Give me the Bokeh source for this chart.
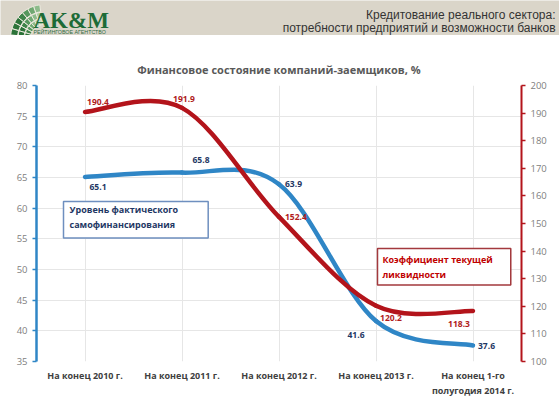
import numpy as np
from bokeh.plotting import figure
from bokeh.models import Range1d, LinearAxis, FixedTicker, Label, ColumnDataSource
from bokeh.layouts import column
from bokeh.embed import file_html
from bokeh.resources import INLINE
from bokeh.core.properties import value

# ---------------- data ----------------
categories = ["На конец 2010 г.", "На конец 2011 г.", "На конец 2012 г.",
              "На конец 2013 г.", "На конец 1-го\nполугодия 2014 г."]
self_financing = [65.1, 65.8, 63.9, 41.6, 37.6]      # left axis, %
liquidity = [190.4, 191.9, 152.4, 120.2, 118.3]       # right axis, %
left_ticks = [35, 40, 45, 50, 55, 60, 65, 70, 75, 80]
right_ticks = [100, 110, 120, 130, 140, 150, 160, 170, 180, 190, 200]

header_title = ["Кредитование реального сектора:",
                "потребности предприятий и возможности банков"]
chart_title = "Финансовое состояние компаний-заемщиков, %"
box_blue_text = "Уровень фактического\nсамофинансирования"
box_red_text = "Коэффициент текущей\nликвидности"

BLUE = "#2f86c6"
RED = "#b3141b"
NAVY = "#1f3864"
LBL_RED = "#b01c1c"
FONT = "Open Sans"
W = 559


def smooth_segments(ys):
    """Excel-like smoothed line: cubic Bezier segments (Catmull-Rom, tension 1/6)."""
    n = len(ys)
    pts = [(float(i), float(ys[i])) for i in range(n)]
    d = dict(x0=[], y0=[], x1=[], y1=[], cx0=[], cy0=[], cx1=[], cy1=[])
    for i in range(n - 1):
        pp = pts[i - 1] if i > 0 else pts[i]
        p0 = pts[i]
        p1 = pts[i + 1]
        pn = pts[i + 2] if i + 2 < n else pts[i + 1]
        d["x0"].append(p0[0]); d["y0"].append(p0[1])
        d["x1"].append(p1[0]); d["y1"].append(p1[1])
        d["cx0"].append(p0[0] + (p1[0] - pp[0]) / 6.0)
        d["cy0"].append(p0[1] + (p1[1] - pp[1]) / 6.0)
        d["cx1"].append(p1[0] - (pn[0] - p0[0]) / 6.0)
        d["cy1"].append(p1[1] - (pn[1] - p0[1]) / 6.0)
    return ColumnDataSource(d)


# ---------------- header band ----------------
BEIGE = "#dad5c9"
HH = 35
h = figure(width=W, height=HH, x_range=Range1d(0, W), y_range=Range1d(0, HH),
           output_backend="svg", toolbar_location=None, min_border=0,
           x_axis_type=None, y_axis_type=None, outline_line_color=None,
           background_fill_color=BEIGE, border_fill_color=BEIGE)
h.frame_align = False
h.grid.visible = False

# logo fan
rings = [(14, 20), (20.5, 26.5), (27, 34)]
greens = ["#2c7339", "#3f8449", "#56975d", "#70a872", "#8dbb8b", "#abcda6", "#c6dec0"]
nseg = 7
a0, a1 = np.deg2rad(98), np.deg2rad(174)
step = (a1 - a0) / nseg
for ri, (r_in, r_out) in enumerate(rings):
    for k in range(nseg):
        ci = (nseg - 1 - k) - ri
        col = greens[min(len(greens) - 1, max(0, ci))]
        h.annular_wedge(x=44, y=-3, inner_radius=r_in, outer_radius=r_out,
                        start_angle=a0 + k * step, end_angle=a0 + (k + 1) * step,
                        fill_color=col, line_color="#eeeae0", line_width=1)

h.text(x=[33], y=[15], text=["AK&M"], text_font=value("Liberation Serif"),
       text_font_style="bold", text_font_size="23px", text_color="#1d6b37",
       text_baseline="middle", text_align="left")
h.text(x=[33], y=[3.5], text=["РЕЙТИНГОВОЕ  АГЕНТСТВО"], text_font=value("Liberation Sans"),
       text_font_size="5.3px", text_color="#2d6b3f", text_baseline="middle", text_align="left")
h.text(x=[555, 555], y=[21, 8], text=header_title, text_font=value("Liberation Sans"),
       text_font_size="12px", text_color="#333333", text_baseline="middle", text_align="right")

# ---------------- main chart ----------------
p = figure(width=W, height=400 - HH, x_range=Range1d(-0.5, 4.5), y_range=Range1d(35, 80),
           output_backend="svg", toolbar_location=None,
           min_border_left=36, min_border_right=38, min_border_top=50, min_border_bottom=32,
           outline_line_color=None, background_fill_color="white", border_fill_color="white")
p.frame_align = False
p.extra_y_ranges = {"right": Range1d(100, 200)}

p.title.text = chart_title
p.title.align = "center"
p.title.text_font = FONT
p.title.text_font_style = "bold"
p.title.text_font_size = "11px"
p.title.text_color = "#595959"
p.title.standoff = 18

# x axis
p.xaxis.ticker = FixedTicker(ticks=list(range(len(categories))))
p.xaxis.major_label_overrides = {i: c for i, c in enumerate(categories)}
p.xaxis.axis_line_color = None
p.xaxis.major_tick_line_color = None
p.xaxis.major_tick_out = 0
p.xaxis.minor_tick_line_color = None
p.xaxis.major_label_standoff = 7
p.xaxis.major_label_text_font = FONT
p.xaxis.major_label_text_font_style = "bold"
p.xaxis.major_label_text_font_size = "9px"
p.xaxis.major_label_text_color = "#404040"

# left axis
p.yaxis.ticker = FixedTicker(ticks=left_ticks)
p.yaxis.axis_line_color = BLUE
p.yaxis.axis_line_width = 2.5
p.yaxis.major_tick_line_color = BLUE
p.yaxis.major_tick_line_width = 1.5
p.yaxis.major_tick_out = 4
p.yaxis.major_tick_in = 0
p.yaxis.minor_tick_line_color = None
p.yaxis.major_label_standoff = 5
p.yaxis.major_label_text_font = FONT
p.yaxis.major_label_text_font_size = "9.5px"
p.yaxis.major_label_text_color = "#808080"

# right axis
ra = LinearAxis(y_range_name="right", ticker=FixedTicker(ticks=right_ticks))
ra.axis_line_color = RED
ra.axis_line_width = 2
ra.major_tick_line_color = RED
ra.major_tick_line_width = 1.5
ra.major_tick_out = 4
ra.major_tick_in = 0
ra.minor_tick_line_color = None
ra.major_label_standoff = 5
ra.major_label_text_font = FONT
ra.major_label_text_font_size = "9.5px"
ra.major_label_text_color = "#808080"
p.add_layout(ra, "right")

# grids
p.xgrid.grid_line_color = "#e6e6e6"
p.ygrid.grid_line_color = "#e6e6e6"

# smoothed series
p.bezier(x0="x0", y0="y0", x1="x1", y1="y1", cx0="cx0", cy0="cy0", cx1="cx1", cy1="cy1",
         source=smooth_segments(self_financing), line_color=BLUE, line_width=4.5,
         line_cap="round")
p.bezier(x0="x0", y0="y0", x1="x1", y1="y1", cx0="cx0", cy0="cy0", cx1="cx1", cy1="cy1",
         source=smooth_segments(liquidity), line_color=RED, line_width=4.5,
         line_cap="round", y_range_name="right")

# data labels
idx = list(range(len(categories)))
blue_src = ColumnDataSource(dict(
    x=idx, y=self_financing, text=[f"{v:.1f}" for v in self_financing],
    xo=[13, 19, 6, -20, 5], yo=[10, -13, 0, 14, 0],
    al=["center", "center", "left", "center", "left"]))
red_src = ColumnDataSource(dict(
    x=idx, y=liquidity, text=[f"{v:.1f}" for v in liquidity],
    xo=[13, 2, 6, 15, -14], yo=[-10, -9, 0, 12, 13],
    al=["center", "center", "left", "center", "center"]))
p.text(x="x", y="y", text="text", source=blue_src, x_offset="xo", y_offset="yo",
       text_align="al", text_baseline="middle", text_font=value(FONT),
       text_font_style="bold", text_font_size="8.5px", text_color=NAVY)
p.text(x="x", y="y", text="text", source=red_src, x_offset="xo", y_offset="yo",
       text_align="al", text_baseline="middle", text_font=value(FONT),
       text_font_style="bold", text_font_size="8.5px", text_color=LBL_RED,
       y_range_name="right")


# annotation boxes with shadow (screen units relative to the plot frame)
def add_box(x, y, txt, tcol, bcol, pad):
    p.add_layout(Label(x=x + 3, y=y - 3, x_units="screen", y_units="screen", text=txt,
                       text_align="left", text_baseline="top", text_font=FONT,
                       text_font_style="bold", text_font_size="9px", text_alpha=0.0,
                       background_fill_color="#9a9a9a", background_fill_alpha=0.5,
                       padding=pad))
    p.add_layout(Label(x=x, y=y, x_units="screen", y_units="screen", text=txt,
                       text_align="left", text_baseline="top", text_font=FONT,
                       text_font_style="bold", text_font_size="9px", text_color=tcol,
                       background_fill_color="white", border_line_color=bcol,
                       border_line_width=1.5, padding=pad))


add_box(27, 160, box_blue_text, NAVY, "#6e8fbf", dict(left=6, right=30, top=1, bottom=7))
add_box(341, 113, box_red_text, "#c00000", "#a3393d", dict(left=5, right=18, top=4, bottom=4))

layout = column(h, p, spacing=0)
with open("out.html", "w", encoding="utf-8") as f:
    f.write(file_html(layout, INLINE))
